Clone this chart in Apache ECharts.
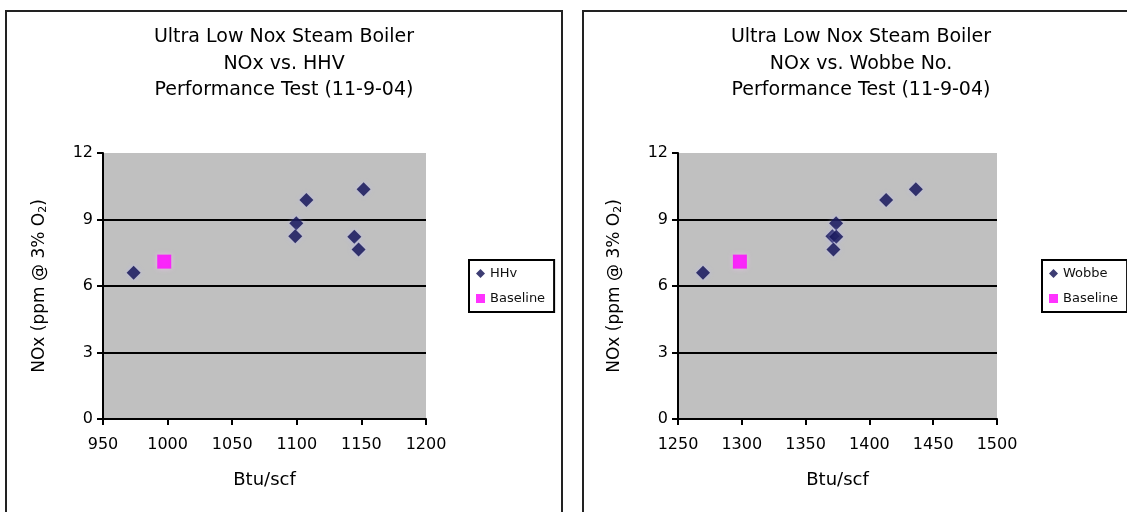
<!DOCTYPE html>
<html>
<head>
<meta charset="utf-8">
<style>
  html, body { margin: 0; padding: 0; background: #ffffff; }
  #chart { width: 1127px; height: 512px; }
</style>
<script src="https://cdn.jsdelivr.net/npm/echarts@6/dist/echarts.min.js"></script>
</head>
<body>
<div id="chart"></div>
<script>
// NOx at 3% O2 for each test run (shared by both panels)
const noxPpm = [6.60, 8.83, 8.25, 9.88, 10.37, 8.22, 7.65];
// Higher heating value of the fuel for each run (Btu/scf)
const hhvBtu = [973.7, 1099.6, 1098.8, 1107.4, 1151.7, 1144.5, 1147.8];
// Wobbe number of the fuel for each run (Btu/scf)
const wobbeBtu = [1269.6, 1373.9, 1371.0, 1413.1, 1436.4, 1374.0, 1371.8];
// Baseline natural-gas point
const baselineNox = [7.1];
const baselineHhv = [997.4];
const baselineWobbe = [1298.5];

// Axis tick values
const noxTicks = [0, 3, 6, 9, 12];
const hhvTicks = [950, 1000, 1050, 1100, 1150, 1200];
const wobbeTicks = [1250, 1300, 1350, 1400, 1450, 1500];

const titleLeft = 'Ultra Low Nox Steam Boiler\nNOx vs. HHV\nPerformance Test (11-9-04)';
const titleRight = 'Ultra Low Nox Steam Boiler\nNOx vs. Wobbe No.\nPerformance Test (11-9-04)';

const FONT = 'DejaVu Sans, Liberation Sans, Arial, sans-serif';
const NAVY = '#0c0c50';
const MAGENTA = '#ff00ff';
const INK = '#000';

const pairs = (xs, ys) => xs.map((x, i) => [x, ys[i]]);
const plain = v => String(v);

function xAxisFor(ticks, gridIndex) {
  return {
    type: 'value', gridIndex,
    min: ticks[0], max: ticks[ticks.length - 1], interval: ticks[1] - ticks[0],
    name: 'Btu/scf', nameLocation: 'middle', nameGap: 52,
    nameTextStyle: { fontFamily: FONT, fontSize: 18, color: INK },
    axisLine: { show: true, onZero: false, lineStyle: { color: '#000', width: 2 } },
    axisTick: { show: true, inside: false, length: 6, lineStyle: { color: '#000', width: 2 } },
    axisLabel: { margin: 18, fontFamily: FONT, fontSize: 16, color: INK, formatter: plain },
    splitLine: { show: false }
  };
}

function yAxisFor(gridIndex) {
  return {
    type: 'value', gridIndex,
    min: noxTicks[0], max: noxTicks[noxTicks.length - 1], interval: noxTicks[1] - noxTicks[0],
    name: 'NOx (ppm @ 3% O{sub|2})', nameLocation: 'middle', nameGap: 54,
    nameTextStyle: {
      fontFamily: FONT, fontSize: 17, color: INK,
      rich: { sub: { fontFamily: FONT, fontSize: 11, color: INK, padding: [7, 0, 0, 0] } }
    },
    axisLine: { show: true, onZero: false, lineStyle: { color: '#000', width: 2 } },
    axisTick: { show: true, inside: false, length: 6, lineStyle: { color: '#000', width: 2 } },
    axisLabel: { margin: 10, fontFamily: FONT, fontSize: 16, color: INK, formatter: plain },
    splitLine: { show: true, showMaxLine: false, lineStyle: { color: '#000', width: 2 } }
  };
}

function legendFor(left, firstName) {
  return {
    orient: 'vertical', left, top: 260,
    padding: [7, 9, 7, 7],
    itemWidth: 9, itemHeight: 9, itemGap: 12,
    borderColor: '#000', borderWidth: 2, backgroundColor: '#fff',
    textStyle: { fontFamily: FONT, fontSize: 13, color: '#111' },
    data: [{ name: firstName, icon: 'diamond' }, { name: 'Baseline', icon: 'rect' }]
  };
}

const diamondStyle = { color: NAVY, shadowColor: 'rgba(185,185,255,0.75)', shadowBlur: 4 };
const squareStyle = { color: MAGENTA, shadowColor: 'rgba(255,190,255,0.8)', shadowBlur: 5 };

const option = {
  backgroundColor: '#ffffff',
  animation: false,
  title: [
    { text: titleLeft, left: 284, top: 24, textAlign: 'center', padding: 0,
      textStyle: { fontFamily: FONT, fontSize: 19, fontWeight: 'normal', lineHeight: 26.5, color: INK } },
    { text: titleRight, left: 861, top: 24, textAlign: 'center', padding: 0,
      textStyle: { fontFamily: FONT, fontSize: 19, fontWeight: 'normal', lineHeight: 26.5, color: INK } }
  ],
  graphic: [
    { type: 'rect', shape: { x: 6, y: 11, width: 556, height: 540 },
      style: { fill: 'none', stroke: '#222', lineWidth: 2 }, z: -10 },
    { type: 'rect', shape: { x: 583, y: 11, width: 600, height: 540 },
      style: { fill: 'none', stroke: '#222', lineWidth: 2 }, z: -10 }
  ],
  legend: [legendFor(469, 'HHv'), legendFor(1042, 'Wobbe')],
  grid: [
    { left: 103, top: 153, width: 323, height: 266, show: true, backgroundColor: '#c0c0c0', borderWidth: 0 },
    { left: 678, top: 153, width: 319, height: 266, show: true, backgroundColor: '#c0c0c0', borderWidth: 0 }
  ],
  xAxis: [xAxisFor(hhvTicks, 0), xAxisFor(wobbeTicks, 1)],
  yAxis: [yAxisFor(0), yAxisFor(1)],
  series: [
    { name: 'HHv', type: 'scatter', xAxisIndex: 0, yAxisIndex: 0, symbol: 'diamond', symbolSize: 14,
      itemStyle: diamondStyle, data: pairs(hhvBtu, noxPpm) },
    { name: 'Baseline', type: 'scatter', xAxisIndex: 0, yAxisIndex: 0, symbol: 'rect', symbolSize: 14,
      itemStyle: squareStyle, data: pairs(baselineHhv, baselineNox) },
    { name: 'Wobbe', type: 'scatter', xAxisIndex: 1, yAxisIndex: 1, symbol: 'diamond', symbolSize: 14,
      itemStyle: diamondStyle, data: pairs(wobbeBtu, noxPpm) },
    { name: 'Baseline', type: 'scatter', xAxisIndex: 1, yAxisIndex: 1, symbol: 'rect', symbolSize: 14,
      itemStyle: squareStyle, data: pairs(baselineWobbe, baselineNox) }
  ]
};

const chart = echarts.init(document.getElementById('chart'), null, { renderer: 'canvas' });
chart.setOption(option);
</script>
</body>
</html>
